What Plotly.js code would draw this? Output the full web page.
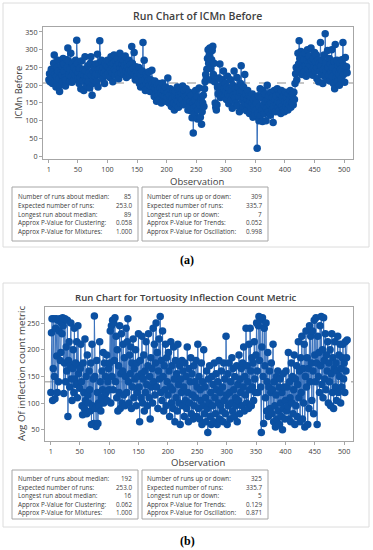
<!DOCTYPE html>
<html><head><meta charset="utf-8">
<script src="https://cdn.plot.ly/plotly-3.0.1.min.js"></script>
<style>html,body{margin:0;padding:0;background:#fff}#c{width:373px;height:550px}</style>
</head><body><div id="c"></div>
<script>
// ICMn Before (panel a), observations 1..505
const icmnBefore = [
215,232,210,228,245,220,205,238,262,285,230,212,195,225,250,270,240,218,182,200,235,255,228,210,275,
260,240,222,198,215,272,250,305,268,230,210,245,290,225,208,262,238,215,250,228,270,242,327,262,220,
235,205,248,222,190,268,230,212,245,185,228,280,240,215,198,225,255,210,235,192,262,280,228,172,205,
238,215,250,225,260,232,210,287,195,245,262,325,248,228,270,240,218,250,235,205,262,242,228,255,270,
232,250,268,222,245,280,258,235,210,262,285,245,228,268,240,255,275,230,218,262,290,248,235,272,258,
245,268,230,255,282,240,222,262,250,236,270,245,228,258,240,309,262,235,248,292,230,215,252,238,225,
242,218,250,205,232,195,228,212,240,320,198,270,215,185,230,205,225,190,212,238,200,182,215,195,242,
205,180,195,168,212,190,175,155,200,185,170,205,160,192,178,150,188,206,172,160,185,168,195,155,178,
165,220,180,150,172,190,158,140,176,162,185,150,130,168,182,145,160,195,155,138,172,188,150,165,178,
160,198,145,175,185,150,168,190,155,172,130,162,180,140,155,128,172,108,150,65,135,120,158,185,140,
168,105,130,150,192,145,110,160,90,125,150,172,140,190,210,230,218,245,275,300,262,285,305,248,215,
272,298,310,230,262,210,150,138,130,145,195,175,220,185,260,165,198,178,215,170,240,190,168,205,182,
160,195,225,175,148,190,170,215,158,185,135,200,172,240,165,190,150,178,222,142,195,168,125,180,205,
255,185,158,140,195,165,230,150,175,128,160,185,145,170,120,155,168,135,150,175,110,160,140,115,165,
130,150,22,120,170,100,140,190,115,165,130,98,185,145,120,175,155,100,135,200,160,125,170,145,115,
180,150,130,165,95,140,185,160,125,170,145,190,135,155,128,175,150,120,185,140,165,130,170,125,155,
180,140,165,150,130,175,145,160,185,138,170,150,175,145,180,160,205,232,250,215,240,290,260,325,275,
240,295,262,230,285,250,272,238,290,255,225,270,300,245,262,282,235,255,305,268,242,228,275,250,292,
240,265,285,218,250,272,210,262,240,320,255,230,270,205,245,285,225,345,262,240,215,298,250,228,275,
212,260,238,300,225,250,205,268,190,315,240,222,270,210,255,232,200,262,245,218,272,240,320,230,255,208,278,245,252,235
];
// Tortuosity inflection count metric (panel b), observations 1..505
const tortuosity = [
120,232,258,105,165,258,150,108,240,258,188,120,255,140,235,258,180,195,250,230,260,245,118,175,258,
140,205,160,255,75,180,215,130,170,250,145,105,165,200,120,240,145,175,135,215,110,245,155,170,128,
165,210,140,95,78,175,120,90,220,105,150,80,190,115,100,160,125,85,175,60,210,95,145,62,263,
150,90,56,180,120,62,100,95,215,140,85,110,160,125,195,100,175,115,150,120,190,105,140,165,125,
175,235,100,245,150,255,125,250,180,260,140,225,110,200,85,170,120,245,90,155,230,100,160,210,115,
185,95,150,240,120,215,258,140,100,190,155,205,90,175,130,220,110,165,145,200,95,175,120,150,230,
130,65,180,110,155,225,100,145,190,85,160,120,215,135,95,170,230,110,150,70,185,130,165,100,240,
140,210,115,175,250,130,195,90,160,220,145,262,120,180,105,235,150,85,170,125,210,95,185,140,115,
195,160,75,130,215,100,170,125,90,205,145,65,180,110,155,85,210,135,100,170,60,145,120,180,95,
160,130,75,175,105,150,90,205,120,65,165,100,140,185,80,155,115,70,170,95,140,110,180,75,130,
210,90,150,70,125,105,175,60,140,95,200,80,130,110,65,160,90,45,145,100,170,75,120,60,150,
95,135,65,175,110,80,155,125,60,140,100,180,70,120,95,160,85,130,65,175,105,145,80,225,115,
60,155,95,175,120,70,140,100,185,85,165,125,75,150,110,95,170,65,135,105,190,80,145,120,165,
95,175,130,205,85,150,115,240,100,170,140,90,210,125,240,160,95,185,130,175,105,215,145,120,190,
250,160,120,245,262,180,255,130,45,205,260,150,62,240,170,110,250,85,140,195,75,130,160,90,120,
175,80,125,210,65,140,95,55,115,150,70,160,85,130,60,145,100,75,120,50,155,90,130,70,105,
160,85,130,95,195,70,140,110,65,175,100,150,80,125,190,60,145,95,170,75,135,215,110,160,65,
185,120,225,70,165,100,210,55,150,235,130,185,60,165,90,245,140,225,175,105,235,160,80,255,190,
140,260,175,60,225,150,195,120,245,170,262,135,200,110,260,180,145,230,125,190,160,215,100,175,140,
200,95,155,230,120,185,90,165,215,130,175,105,160,225,120,190,150,210,100,165,130,185,210,145,175,120,215,160,185,218
];
const medianA = 206;
const medianB = 140;
const xTicks = [1,50,100,150,200,250,300,350,400,450,500];
const yTicksA = [0,50,100,150,200,250,300,350];
const yTicksB = [50,100,150,200,250];
const statLabelsLeft = ["Number of runs about median:","Expected number of runs:","Longest run about median:","Approx P-Value for Clustering:","Approx P-Value for Mixtures:"];
const statLabelsRight = ["Number of runs up or down:","Expected number of runs:","Longest run up or down:","Approx P-Value for Trends:","Approx P-Value for Oscillation:"];
const statsA_left = ["85","253.0","89","0.058","1.000"];
const statsA_right = ["309","335.7","7","0.052","0.998"];
const statsB_left = ["192","253.0","16","0.062","1.000"];
const statsB_right = ["325","335.7","5","0.129","0.871"];

const W=373,H=550;
const px=v=>v/W, py=v=>1-v/H;
const obsA = icmnBefore.map((_,i)=>i+1);
const obsB = tortuosity.map((_,i)=>i+1);
const FONT = '"Open Sans", "Noto Sans", sans-serif';
const LINEC='#3a72bd', MARKC='#0b50a2';

const traces = [
 {x:obsA,y:icmnBefore,type:'scatter',mode:'lines+markers',xaxis:'x',yaxis:'y',
  line:{color:LINEC,width:1},marker:{color:MARKC,size:7.5},hoverinfo:'x+y'},
 {x:obsB,y:tortuosity,type:'scatter',mode:'lines+markers',xaxis:'x2',yaxis:'y2',
  line:{color:LINEC,width:1},marker:{color:MARKC,size:7.5},hoverinfo:'x+y'}
];
const axBase = {showline:true,mirror:true,linecolor:'#a6a6a6',linewidth:1,ticks:'outside',ticklen:3,
  tickcolor:'#a6a6a6',showgrid:false,zeroline:false,tickfont:{family:FONT,size:7.2,color:'#404040'}};
const layout = {
  width:W,height:H,margin:{l:0,r:0,t:0,b:0},paper_bgcolor:'#fff',plot_bgcolor:'#fff',showlegend:false,
  xaxis:Object.assign({},axBase,{domain:[px(43),px(353)],range:[-9,515],tickvals:xTicks,anchor:'y'}),
  yaxis:Object.assign({},axBase,{domain:[py(159),py(27)],range:[-8,364],tickvals:yTicksA,anchor:'x'}),
  xaxis2:Object.assign({},axBase,{domain:[px(45),px(353)],range:[-9,515],tickvals:xTicks,anchor:'y2'}),
  yaxis2:Object.assign({},axBase,{domain:[py(441),py(307)],range:[29,280],tickvals:yTicksB,anchor:'x2'}),
  shapes:[],annotations:[]
};
const S=layout.shapes, A=layout.annotations;
// outer frames
S.push({type:'rect',xref:'paper',yref:'paper',x0:px(3),x1:px(369),y0:py(247),y1:py(3),line:{color:'#dcdcdc',width:1},layer:'below'});
S.push({type:'rect',xref:'paper',yref:'paper',x0:px(3),x1:px(369),y0:py(527),y1:py(283),line:{color:'#dcdcdc',width:1},layer:'below'});
// median lines
S.push({type:'line',xref:'x domain',yref:'y',x0:0,x1:1,y0:medianA,y1:medianA,line:{color:'#b4b4b4',width:1.5,dash:'dash'},layer:'below'});
S.push({type:'line',xref:'x2 domain',yref:'y2',x0:0,x1:1,y0:medianB,y1:medianB,line:{color:'#b4b4b4',width:1.5,dash:'dash'},layer:'below'});
// titles
A.push({xref:'paper',yref:'paper',x:px(197),y:py(16),text:'Run Chart of ICMn Before',showarrow:false,font:{family:FONT,size:10.5,weight:600,color:'#404040'},xanchor:'center',yanchor:'middle'});
A.push({xref:'paper',yref:'paper',x:px(186),y:py(297),text:'Run Chart for Tortuosity Inflection Count Metric',showarrow:false,font:{family:FONT,size:9.6,weight:600,color:'#404040'},xanchor:'center',yanchor:'middle'});
A.push({xref:'paper',yref:'paper',x:px(197),y:py(181),text:'Observation',showarrow:false,font:{family:FONT,size:9.5,color:'#404040'},xanchor:'center',yanchor:'middle'});
A.push({xref:'paper',yref:'paper',x:px(198),y:py(462),text:'Observation',showarrow:false,font:{family:FONT,size:9.5,color:'#404040'},xanchor:'center',yanchor:'middle'});
A.push({xref:'paper',yref:'paper',x:px(19),y:py(93),text:'ICMn Before',textangle:-90,showarrow:false,font:{family:FONT,size:9.2,color:'#404040'},xanchor:'center',yanchor:'middle'});
A.push({xref:'paper',yref:'paper',x:px(21),y:py(374),text:'Avg Of inflection count metric',textangle:-90,showarrow:false,font:{family:FONT,size:9.8,color:'#404040'},xanchor:'center',yanchor:'middle'});
A.push({xref:'paper',yref:'paper',x:px(187),y:py(260),text:'<b>(a)</b>',showarrow:false,font:{family:'"Liberation Serif", serif',size:12,color:'#000'},xanchor:'center',yanchor:'middle'});
A.push({xref:'paper',yref:'paper',x:px(187),y:py(541),text:'<b>(b)</b>',showarrow:false,font:{family:'"Liberation Serif", serif',size:12,color:'#000'},xanchor:'center',yanchor:'middle'});
// stat boxes
function statBox(top,bot,rows0,step,valsL,valsR){
  S.push({type:'rect',xref:'paper',yref:'paper',x0:px(12),x1:px(138),y0:py(bot),y1:py(top),line:{color:'#a6a6a6',width:1}});
  S.push({type:'rect',xref:'paper',yref:'paper',x0:px(142),x1:px(268),y0:py(bot),y1:py(top),line:{color:'#a6a6a6',width:1}});
  const f={family:FONT,size:6.3,color:'#404040'};
  for(let i=0;i<5;i++){
    const yy=py(rows0+i*step);
    A.push({xref:'paper',yref:'paper',x:px(15.5),y:yy,text:statLabelsLeft[i],showarrow:false,font:f,xanchor:'left',yanchor:'middle'});
    A.push({xref:'paper',yref:'paper',x:px(134),y:yy,text:valsL[i],showarrow:false,font:f,xanchor:'right',yanchor:'middle'});
    A.push({xref:'paper',yref:'paper',x:px(145),y:yy,text:statLabelsRight[i],showarrow:false,font:f,xanchor:'left',yanchor:'middle'});
    A.push({xref:'paper',yref:'paper',x:px(263.5),y:yy,text:valsR[i],showarrow:false,font:f,xanchor:'right',yanchor:'middle'});
  }
}
statBox(187,241,196.8,8.6,statsA_left,statsA_right);
statBox(470,519,478.5,8.5,statsB_left,statsB_right);
Plotly.newPlot('c',traces,layout,{staticPlot:true,displayModeBar:false});
</script></body></html>
